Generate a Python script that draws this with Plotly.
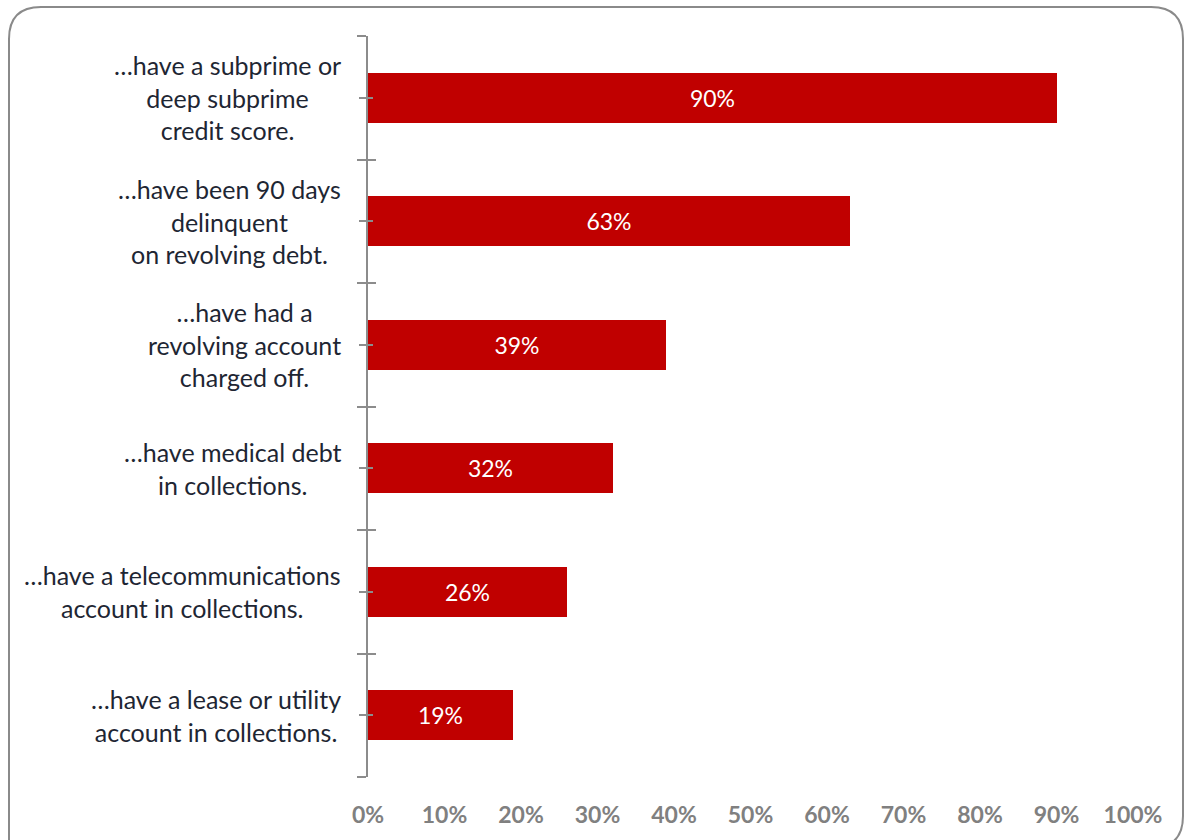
import plotly.graph_objects as go

categories = [
    "…have a subprime or<br>deep subprime<br>credit score.",
    "…have been 90 days<br>delinquent<br>on revolving debt.",
    "…have had a<br>revolving account<br>charged off.",
    "…have medical debt<br>in collections.",
    "…have a telecommunications<br>account in collections.",
    "…have a lease or utility<br>account in collections.",
]
values = [0.90, 0.63, 0.39, 0.32, 0.26, 0.19]
bar_labels = ["90%", "63%", "39%", "32%", "26%", "19%"]
x_tickvals = [0, 0.1, 0.2, 0.3, 0.4, 0.5, 0.6, 0.7, 0.8, 0.9, 1.0]
x_ticktext = ["0%", "10%", "20%", "30%", "40%", "50%", "60%", "70%", "80%", "90%", "100%"]

W, H = 1184, 840
L, R, T, B = 368, 51, 36, 63
pw, ph = W - L - R, H - T - B

FONT = "Lato"
positions = list(range(len(categories)))
boundaries = [p - 0.5 for p in positions] + [positions[-1] + 0.5]

fig = go.Figure()
fig.add_trace(go.Bar(
    x=values, y=positions, orientation="h",
    marker=dict(color="#C00000", line=dict(width=0)),
    width=0.405,
    text=bar_labels, textposition="inside", insidetextanchor="middle",
    textfont=dict(color="white", size=23, family=FONT),
    hoverinfo="skip",
))
fig.add_trace(go.Scatter(x=[None], y=[None], yaxis="y2", showlegend=False, hoverinfo="skip"))

for p, c in zip(positions, categories):
    fig.add_annotation(
        x=-25 / pw, xref="paper", y=p, yref="y",
        text=c, showarrow=False, xanchor="right", yanchor="middle", align="center",
        font=dict(size=25, family=FONT, color="#1E2633"),
    )

def px_x(x):
    return (x - L) / pw

def px_y(y):
    return (H - B - y) / ph

x0, x1 = px_x(9), px_x(1183)
y0, y1 = px_y(848), px_y(7)
rx, ry = 32 / pw, 32 / ph
path = (f"M {x0},{y0} L {x0},{y1-ry} Q {x0},{y1} {x0+rx},{y1} "
        f"L {x1-rx},{y1} Q {x1},{y1} {x1},{y1-ry} "
        f"L {x1},{y0+ry} Q {x1},{y0} {x1-rx},{y0} Z")
fig.add_shape(type="path", path=path, xref="paper", yref="paper",
              line=dict(color="#8A8A8A", width=2), layer="below")

fig.update_layout(
    width=W, height=H,
    margin=dict(l=L, r=R, t=T, b=B, pad=0),
    plot_bgcolor="white", paper_bgcolor="white",
    showlegend=False,
    bargap=0,
    xaxis=dict(
        range=[0, 1], tickvals=x_tickvals, ticktext=x_ticktext,
        showgrid=False, zeroline=False, showline=False, ticks="",
        ticklabelstandoff=22,
        tickfont=dict(size=23, family=FONT, color="#808080", weight="bold"),
        fixedrange=True,
    ),
    yaxis=dict(
        range=[positions[-1] + 0.5, -0.5],
        tickvals=boundaries, ticks="outside", ticklen=9, tickwidth=2, tickcolor="#8C8C8C",
        showticklabels=False, showgrid=False, zeroline=False,
        showline=True, linecolor="#8C8C8C", linewidth=2,
        minor=dict(tickvals=positions, ticks="outside", ticklen=7, tickwidth=2, tickcolor="#8C8C8C"),
        fixedrange=True,
    ),
    yaxis2=dict(
        range=[positions[-1] + 0.5, -0.5], overlaying="y", anchor="x", side="left",
        tickvals=boundaries, ticks="inside", ticklen=8, tickwidth=2, tickcolor="#8C8C8C",
        showticklabels=False, showgrid=False, zeroline=False, showline=False,
        minor=dict(tickvals=positions, ticks="inside", ticklen=5, tickwidth=2, tickcolor="#8C8C8C"),
        fixedrange=True,
    ),
)

fig.write_html(
    "out.html",
    config={"displayModeBar": False},
    post_script="document.body.style.margin='0';document.body.style.overflow='hidden';",
)
